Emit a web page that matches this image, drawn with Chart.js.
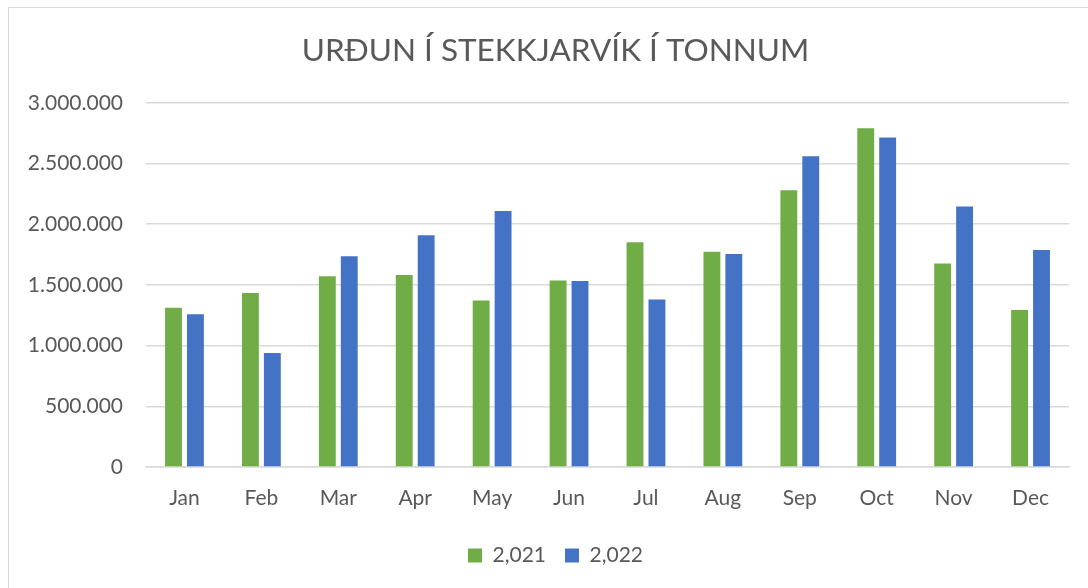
<!DOCTYPE html>
<html>
<head>
<meta charset="utf-8">
<script src="https://cdn.jsdelivr.net/npm/chart.js@4"></script>
<style>
  html, body { margin: 0; padding: 0; background: #fff; }
  #wrap { position: relative; width: 1088px; height: 588px; overflow: hidden; }
  #frame { position: absolute; left: 8px; top: 7px; width: 1200px; height: 700px;
           border-left: 1px solid #d9d9d9; border-top: 1px solid #d9d9d9; }
  canvas { position: absolute; left: 0; top: 0; }
</style>
</head>
<body>
<div id="wrap">
  <div id="frame"></div>
  <canvas id="chart" width="1088" height="588"></canvas>
</div>
<script>
// data
const months = ["Jan", "Feb", "Mar", "Apr", "May", "Jun", "Jul", "Aug", "Sep", "Oct", "Nov", "Dec"];
const values2021 = [1311000, 1434000, 1572000, 1581000, 1372000, 1536000, 1851000, 1774000, 2280000, 2790000, 1677000, 1294000];
const values2022 = [1258000, 940000, 1737000, 1910000, 2108000, 1532000, 1379000, 1754000, 2560000, 2715000, 2146000, 1787000];
const seriesLabels = ["2,021", "2,022"];

// set global font
Chart.defaults.font.family = "Lato, 'Open Sans', sans-serif";
Chart.defaults.color = "#595959";
Chart.defaults.font.size = 21;

// 3000000 -> 3.000.000
function dotted(v) {
  return String(v).replace(/\B(?=(\d{3})+(?!\d))/g, ".");
}

// the original chart box runs past the right edge, so title and legend sit a bit right of the plot centre
const shiftCenter = {
  id: 'shiftCenter',
  afterLayout(chart) {
    [chart.titleBlock, chart.legend].forEach(function (b) {
      if (b) { b.left += 17; b.right += 17; }
    });
  }
};

var ctx = document.getElementById('chart').getContext('2d');
new Chart(ctx, {
  type: 'bar',
  data: {
    labels: months,
    datasets: [{
      label: seriesLabels[0],
      data: values2021,
      backgroundColor: '#70ad47',
      borderWidth: 0
    }, {
      label: seriesLabels[1],
      data: values2022,
      backgroundColor: '#4472c4',
      borderWidth: 0
    }]
  },
  options: {
    responsive: false,
    animation: false,
    layout: {
      padding: { left: 8, right: 19, top: 0, bottom: 12 }
    },
    datasets: {
      bar: {
        categoryPercentage: 0.57,
        barPercentage: 0.77
      }
    },
    scales: {
      x: {
        grid: { display: false },
        border: { color: '#d9d9d9', width: 1.5 },
        afterFit: function (scale) { scale.height = 59; },
        ticks: { padding: 11, color: '#595959' }
      },
      y: {
        min: 0,
        max: 3000000,
        afterFit: function (scale) { scale.width = 138; },
        ticks: {
          stepSize: 500000,
          padding: 23,
          color: '#595959',
          callback: function (v) { return dotted(v); }
        },
        grid: { color: '#d9d9d9', lineWidth: 1.5, drawTicks: false },
        border: { display: false }
      }
    },
    plugins: {
      title: {
        display: true,
        text: 'URÐUN Í STEKKJARVÍK Í TONNUM',
        color: '#595959',
        font: { size: 31.5, weight: 'normal' },
        padding: { top: 32, bottom: 33 }
      },
      legend: {
        position: 'bottom',
        labels: {
          boxWidth: 14,
          boxHeight: 14,
          padding: 19,
          color: '#595959'
        }
      },
      tooltip: { enabled: false }
    }
  },
  plugins: [shiftCenter]
});
</script>
</body>
</html>
